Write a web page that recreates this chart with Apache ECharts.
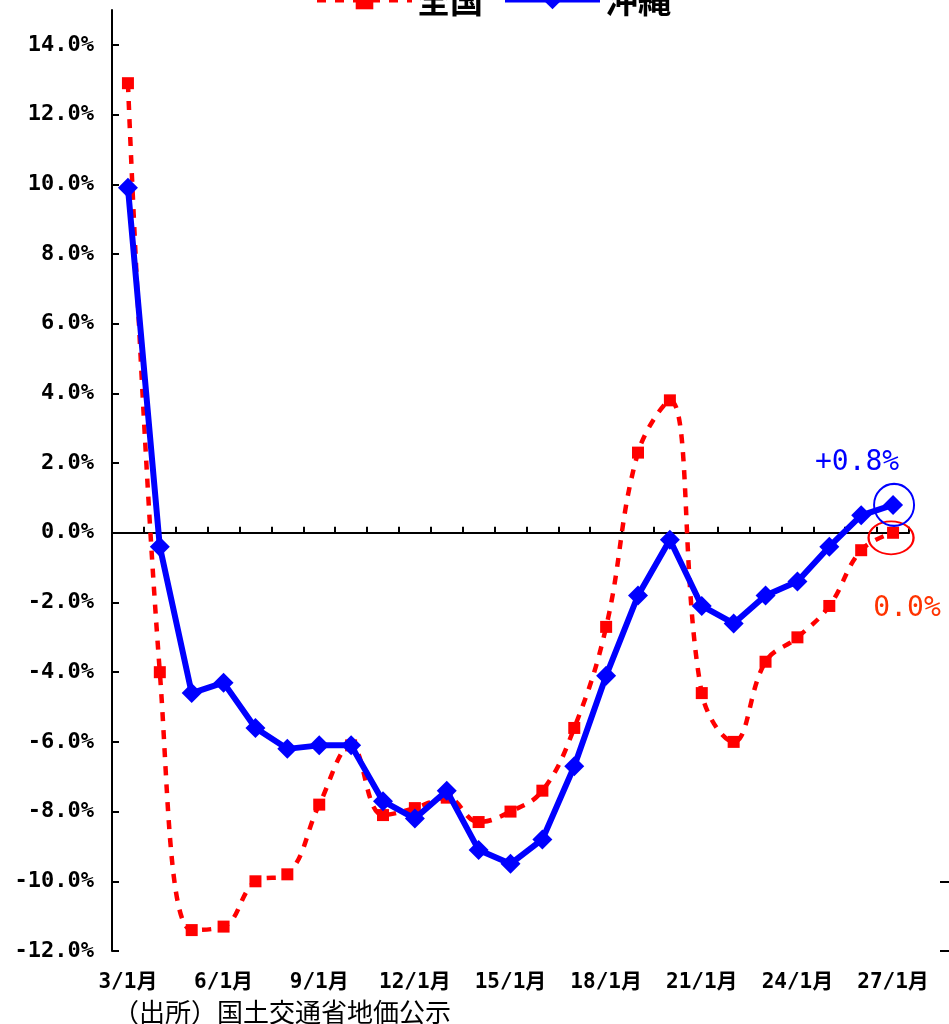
<!DOCTYPE html>
<html>
<head>
<meta charset="utf-8">
<script src="https://cdn.jsdelivr.net/npm/echarts@6/dist/echarts.min.js"></script>
<style>
  html, body { margin: 0; padding: 0; background: #ffffff; }
  #chart { width: 949px; height: 1024px; }
</style>
</head>
<body>
<div id="chart"></div>
<script>
// 公示地価 変動率（年次・1月1日時点）
const categories = [
  '3/1月', '4/1月', '5/1月', '6/1月', '7/1月', '8/1月', '9/1月', '10/1月', '11/1月',
  '12/1月', '13/1月', '14/1月', '15/1月', '16/1月', '17/1月', '18/1月', '19/1月',
  '20/1月', '21/1月', '22/1月', '23/1月', '24/1月', '25/1月', '26/1月', '27/1月'
];
const zenkoku = [
  12.9, -4.0, -11.4, -11.3, -10.0, -9.8, -7.8, -6.1, -8.1, -7.9, -7.6, -8.3, -8.0,
  -7.4, -5.6, -2.7, 2.3, 3.8, -4.6, -6.0, -3.7, -3.0, -2.1, -0.5, 0.0
];
const okinawa = [
  9.9, -0.4, -4.6, -4.3, -5.6, -6.2, -6.1, -6.1, -7.7, -8.2, -7.4, -9.1, -9.5,
  -8.8, -6.7, -4.1, -1.8, -0.2, -2.1, -2.6, -1.8, -1.4, -0.4, 0.5, 0.8
];
const seriesNames = ['全国', '沖縄'];
const yTicks = [-12, -10, -8, -6, -4, -2, 0, 2, 4, 6, 8, 10, 12, 14];
const rightTicks = [-12, -10];
const sourceNote = '（出所）国土交通省地価公示';

const MONO = "'DejaVu Sans Mono', 'Noto Sans CJK JP', monospace";
const CJK = "'Noto Sans CJK JP', sans-serif";
const RED = '#ff0000';
const BLUE = '#0000ff';
const last = categories.length - 1;

const pct = v => v.toFixed(1) + '%';
const signedPct = v => (v > 0 ? '+' : '') + v.toFixed(1) + '%';

// the latest value of each series carries its own label
const zenkokuData = zenkoku.map((v, i) => i !== last ? v : {
  value: v,
  label: {
    show: true, position: 'bottom', offset: [14, 51],
    formatter: p => pct(p.value),
    color: '#ff3300', fontSize: 28, fontFamily: MONO
  }
});
const okinawaData = okinawa.map((v, i) => i !== last ? v : {
  value: v,
  label: {
    show: true, position: 'top', offset: [-36, -13],
    formatter: p => signedPct(p.value),
    color: BLUE, fontSize: 28, fontFamily: MONO
  }
});

const chart = echarts.init(document.getElementById('chart'), null, { renderer: 'canvas' });

chart.setOption({
  animation: false,
  backgroundColor: '#ffffff',
  title: {
    text: sourceNote,
    left: 108, top: 994,
    textStyle: { fontSize: 26, fontWeight: 'normal', color: '#000', fontFamily: CJK }
  },
  legend: {
    data: seriesNames,
    left: 310, top: -21,
    itemWidth: 95, itemHeight: 22, itemGap: 20,
    lineStyle: { width: 4 },
    textStyle: { fontSize: 33, fontWeight: 'bold', color: '#000', fontFamily: CJK }
  },
  grid: {
    left: 112, right: 40, top: 10, bottom: 73,
    containLabel: false, outerBoundsMode: 'none'
  },
  xAxis: [
    {
      type: 'category', data: categories, boundaryGap: true, position: 'bottom',
      axisLine: { show: false, onZero: false },
      axisTick: { show: false },
      axisLabel: {
        interval: 2, margin: 21, color: '#000',
        fontSize: 21, fontWeight: 'bold', fontFamily: MONO
      },
      splitLine: { show: false }
    },
    {
      type: 'category', data: categories, boundaryGap: true, position: 'bottom',
      axisLine: { show: true, onZero: true, lineStyle: { color: '#000', width: 2 } },
      axisTick: {
        show: true, inside: true, interval: 0, length: 6,
        lineStyle: { color: '#000', width: 2 }
      },
      axisLabel: { show: false, interval: 0 },
      splitLine: { show: false }
    }
  ],
  yAxis: [
    {
      type: 'value', min: -12, max: 15, interval: 2, position: 'left',
      axisLine: { show: true, lineStyle: { color: '#000', width: 2 } },
      axisTick: {
        show: true, inside: true, length: 7, customValues: yTicks,
        lineStyle: { color: '#000', width: 2 }
      },
      axisLabel: {
        customValues: yTicks, margin: 18, color: '#000',
        fontSize: 22, fontWeight: 'bold', fontFamily: MONO,
        formatter: v => pct(v)
      },
      splitLine: { show: false }
    },
    {
      type: 'value', min: -12, max: 15, interval: 2, position: 'right', offset: 42,
      axisLine: { show: false },
      axisTick: {
        show: true, inside: true, length: 11, customValues: rightTicks,
        lineStyle: { color: '#000', width: 2 }
      },
      axisLabel: { show: false },
      splitLine: { show: false }
    }
  ],
  series: [
    {
      name: seriesNames[0], type: 'line', xAxisIndex: 0, yAxisIndex: 0,
      data: zenkokuData, smooth: 0.4,
      symbol: 'rect', symbolSize: 12,
      lineStyle: { color: RED, width: 4.5, type: [9, 9] },
      itemStyle: { color: RED },
      z: 2,
      markPoint: {
        symbol: 'circle', symbolSize: [45, 33], symbolOffset: [-2, 5],
        itemStyle: { color: 'rgba(0,0,0,0)', borderColor: RED, borderWidth: 2 },
        label: { show: false },
        data: [{ coord: [last, zenkoku[last]] }]
      }
    },
    {
      name: seriesNames[1], type: 'line', xAxisIndex: 0, yAxisIndex: 0,
      data: okinawaData,
      symbol: 'diamond', symbolSize: 20,
      lineStyle: { color: BLUE, width: 6 },
      itemStyle: { color: BLUE },
      z: 3,
      markPoint: {
        symbol: 'circle', symbolSize: [40, 42], symbolOffset: [1, 0],
        itemStyle: { color: 'rgba(0,0,0,0)', borderColor: BLUE, borderWidth: 2 },
        label: { show: false },
        data: [{ coord: [last, okinawa[last]] }]
      }
    }
  ]
});
</script>
</body>
</html>
